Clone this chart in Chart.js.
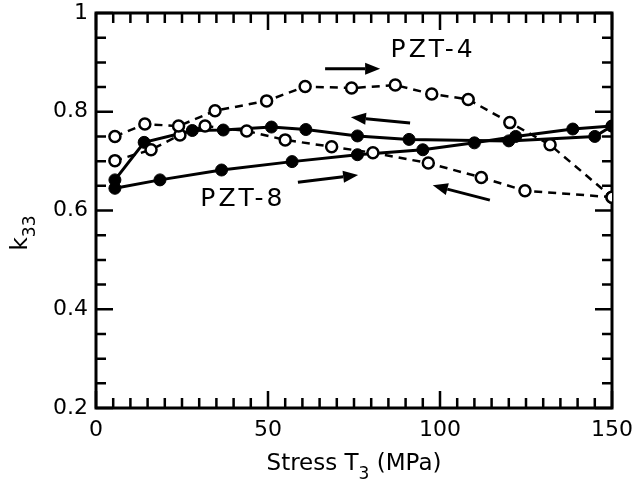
<!DOCTYPE html>
<html>
<head>
<meta charset="utf-8">
<script src="https://cdn.jsdelivr.net/npm/chart.js@4.4.0/dist/chart.umd.min.js"></script>
<style>
  html, body { margin: 0; padding: 0; background: #fff; }
</style>
</head>
<body>
<canvas id="c" width="636" height="493"></canvas>
<script>
// values (stress in MPa, k33)
const pzt8UpStress = [5.5, 18.6, 36.5, 57, 76, 95, 110, 122, 138.6, 150];
const pzt8UpK = [0.645, 0.662, 0.682, 0.699, 0.713, 0.723, 0.737, 0.75, 0.765, 0.771];
const pzt8DownStress = [150, 145, 120, 91, 76, 61, 51, 37, 28, 14, 5.5];
const pzt8DownK = [0.771, 0.75, 0.741, 0.744, 0.751, 0.764, 0.769, 0.763, 0.762, 0.738, 0.662];

const pzt4UpStress = [5.5, 14.2, 24, 34.6, 49.6, 60.8, 74.3, 87, 97.6, 108.2, 120.3, 132, 150];
const pzt4UpK = [0.75, 0.775, 0.771, 0.802, 0.822, 0.851, 0.848, 0.854, 0.836, 0.825, 0.778, 0.733, 0.627];
const pzt4DownStress = [150, 124.7, 112, 96.6, 80.5, 68.5, 55, 43.8, 31.7, 24.4, 16, 5.5];
const pzt4DownK = [0.627, 0.64, 0.667, 0.696, 0.717, 0.729, 0.743, 0.761, 0.771, 0.753, 0.723, 0.701];

const xTicks = [0, 50, 100, 150];
const yTicks = [0.2, 0.4, 0.6, 0.8, 1];

const FONT = 'DejaVu Sans';

const pts = (xs, ys) => xs.map((x, i) => ({ x: x, y: ys[i] }));

const solid = {
  borderColor: '#000', borderWidth: 3, showLine: true, tension: 0,
  pointRadius: 6, pointBackgroundColor: '#000', pointBorderColor: '#000', pointBorderWidth: 1
};
const dashed = {
  borderColor: '#000', borderWidth: 2.5, borderDash: [8, 6], showLine: true, tension: 0,
  pointRadius: 5.5, pointBackgroundColor: '#fff', pointBorderColor: '#000', pointBorderWidth: 2.5
};

function arrow(ctx, x1, y1, x2, y2) {
  const ang = Math.atan2(y2 - y1, x2 - x1);
  const hl = 15, hw = 6;
  const bx = x2 - hl * Math.cos(ang), by = y2 - hl * Math.sin(ang);
  ctx.beginPath();
  ctx.moveTo(x1, y1);
  ctx.lineTo(bx, by);
  ctx.stroke();
  ctx.beginPath();
  ctx.moveTo(x2, y2);
  ctx.lineTo(bx + hw * Math.sin(ang), by - hw * Math.cos(ang));
  ctx.lineTo(bx - hw * Math.sin(ang), by + hw * Math.cos(ang));
  ctx.closePath();
  ctx.fill();
}

// frame with inward ticks on all four sides
const framePlugin = {
  id: 'frame',
  beforeDatasetsDraw(chart) {
    const { ctx, chartArea: a, scales: { x, y } } = chart;
    ctx.save();
    ctx.strokeStyle = '#000';
    ctx.lineWidth = 3;
    ctx.strokeRect(a.left, a.top, a.right - a.left, a.bottom - a.top);
    ctx.lineWidth = 2.5;
    ctx.beginPath();
    for (let v = 0; v <= 150; v += 5) {
      const px = x.getPixelForValue(v);
      const L = v % 50 === 0 ? 17 : 10;
      ctx.moveTo(px, a.bottom); ctx.lineTo(px, a.bottom - L);
      ctx.moveTo(px, a.top); ctx.lineTo(px, a.top + L);
    }
    for (let i = 0; i <= 16; i++) {
      const py = y.getPixelForValue(0.2 + i * 0.05);
      const L = i % 4 === 0 ? 17 : 10;
      ctx.moveTo(a.left, py); ctx.lineTo(a.left + L, py);
      ctx.moveTo(a.right, py); ctx.lineTo(a.right - L, py);
    }
    ctx.stroke();
    ctx.restore();
  }
};

// labels, arrows and axis titles
const notesPlugin = {
  id: 'notes',
  afterDatasetsDraw(chart) {
    const { ctx, chartArea: a, scales: { x, y } } = chart;
    ctx.save();
    ctx.fillStyle = '#000';
    ctx.strokeStyle = '#000';
    ctx.lineWidth = 3;

    arrow(ctx, x.getPixelForValue(66.6), y.getPixelForValue(0.887), x.getPixelForValue(82.6), y.getPixelForValue(0.887));
    arrow(ctx, x.getPixelForValue(91.3), y.getPixelForValue(0.777), x.getPixelForValue(74.1), y.getPixelForValue(0.789));
    arrow(ctx, x.getPixelForValue(58.7), y.getPixelForValue(0.657), x.getPixelForValue(76.2), y.getPixelForValue(0.672));
    arrow(ctx, x.getPixelForValue(114.5), y.getPixelForValue(0.621), x.getPixelForValue(97.9), y.getPixelForValue(0.651));

    ctx.font = '25px "' + FONT + '"';
    ctx.letterSpacing = '3px';
    ctx.textAlign = 'center';
    ctx.textBaseline = 'middle';
    ctx.fillText('PZT-4', x.getPixelForValue(98), y.getPixelForValue(0.925));
    ctx.fillText('PZT-8', x.getPixelForValue(42.7), y.getPixelForValue(0.623));
    ctx.letterSpacing = '0px';

    // x title: Stress T3 (MPa)
    const big = '23px "' + FONT + '"', small = '17px "' + FONT + '"';
    ctx.textAlign = 'left';
    ctx.textBaseline = 'alphabetic';
    ctx.font = big;
    const w1 = ctx.measureText('Stress T').width;
    const w3 = ctx.measureText(' (MPa)').width;
    ctx.font = small;
    const w2 = ctx.measureText('3').width;
    let tx = (a.left + a.right) / 2 - (w1 + w2 + w3) / 2;
    const ty = 470;
    ctx.font = big; ctx.fillText('Stress T', tx, ty); tx += w1;
    ctx.font = small; ctx.fillText('3', tx, ty + 9); tx += w2;
    ctx.font = big; ctx.fillText(' (MPa)', tx, ty);

    // y title: k33
    ctx.translate(27, 233);
    ctx.rotate(-Math.PI / 2);
    ctx.font = big;
    const kw = ctx.measureText('k').width;
    ctx.font = small;
    const sw = ctx.measureText('33').width;
    let ky = -(kw + sw) / 2;
    ctx.font = big; ctx.fillText('k', ky, 0); ky += kw;
    ctx.font = small; ctx.fillText('33', ky, 8);
    ctx.restore();
  }
};

new Chart(document.getElementById('c').getContext('2d'), {
  type: 'scatter',
  data: {
    datasets: [
      Object.assign({ label: 'PZT-4 up', data: pts(pzt4UpStress, pzt4UpK) }, dashed),
      Object.assign({ label: 'PZT-4 down', data: pts(pzt4DownStress, pzt4DownK) }, dashed),
      Object.assign({ label: 'PZT-8 up', data: pts(pzt8UpStress, pzt8UpK) }, solid),
      Object.assign({ label: 'PZT-8 down', data: pts(pzt8DownStress, pzt8DownK) }, solid)
    ]
  },
  options: {
    responsive: false,
    animation: false,
    devicePixelRatio: 1,
    layout: { padding: { top: 13, right: 24, left: 0, bottom: 0 } },
    plugins: { legend: { display: false }, tooltip: { enabled: false } },
    scales: {
      x: {
        type: 'linear', min: 0, max: 150,
        afterBuildTicks: (s) => { s.ticks = xTicks.map(v => ({ value: v })); },
        afterFit: (s) => { s.height = 85; s.paddingLeft = 0; s.paddingRight = 0; },
        grid: { display: false, drawTicks: false },
        border: { display: false },
        ticks: { color: '#000', padding: 9, maxRotation: 0, font: { family: FONT, size: 22 } }
      },
      y: {
        type: 'linear', min: 0.2, max: 1,
        afterBuildTicks: (s) => { s.ticks = yTicks.map(v => ({ value: v })); },
        afterFit: (s) => { s.width = 96; s.paddingTop = 0; s.paddingBottom = 0; },
        grid: { display: false, drawTicks: false },
        border: { display: false },
        ticks: {
          color: '#000', padding: 8, font: { family: FONT, size: 22 },
          callback: (v) => (v === 1 ? '1' : v.toFixed(1))
        }
      }
    }
  },
  plugins: [framePlugin, notesPlugin]
});
</script>
</body>
</html>
